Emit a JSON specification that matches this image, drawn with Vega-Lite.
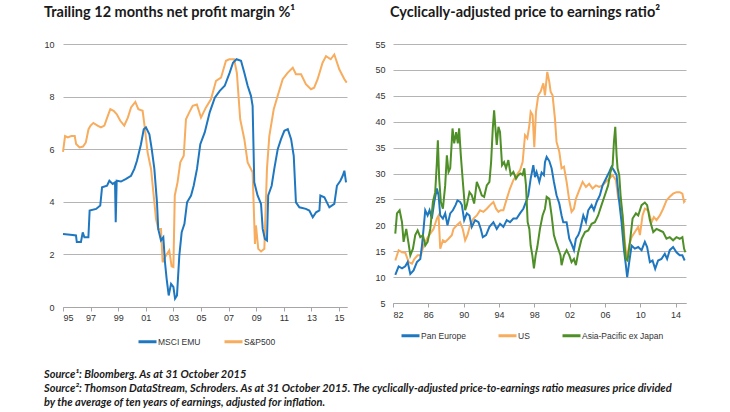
{
  "$schema": "https://vega.github.io/schema/vega-lite/v6.json",
  "background": "white",
  "padding": {"left": 43, "top": 4, "right": 5, "bottom": 0},
  "title": {
    "text": [
      "Source¹: Bloomberg. As at 31 October 2015",
      "Source²: Thomson DataStream, Schroders. As at 31 October 2015. The cyclically-adjusted price-to-earnings ratio measures price divided",
      "by the average of ten years of earnings, adjusted for inflation."
    ],
    "orient": "bottom",
    "anchor": "start",
    "frame": "bounds",
    "font": "Lato",
    "fontSize": 11,
    "fontStyle": "italic",
    "fontWeight": "bold",
    "lineHeight": 14,
    "offset": 21,
    "color": "#1a1a1a"
  },
  "datasets": {
    "margin": [
      {"series":"S&P500","year":1995.0,"value":5.9},{"series":"S&P500","year":1995.15,"value":6.5},{"series":"S&P500","year":1995.35,"value":6.45},{"series":"S&P500","year":1995.6,"value":6.5},{"series":"S&P500","year":1995.85,"value":6.5},{"series":"S&P500","year":1995.95,"value":6.2},{"series":"S&P500","year":1996.2,"value":6.07},{"series":"S&P500","year":1996.45,"value":6.1},{"series":"S&P500","year":1996.65,"value":6.25},{"series":"S&P500","year":1996.85,"value":6.76},{"series":"S&P500","year":1997.0,"value":6.9},{"series":"S&P500","year":1997.2,"value":7.0},{"series":"S&P500","year":1997.5,"value":6.9},{"series":"S&P500","year":1997.75,"value":6.83},{"series":"S&P500","year":1998.0,"value":6.9},{"series":"S&P500","year":1998.2,"value":7.2},{"series":"S&P500","year":1998.43,"value":7.52},{"series":"S&P500","year":1998.67,"value":7.46},{"series":"S&P500","year":1998.9,"value":7.33},{"series":"S&P500","year":1999.15,"value":7.08},{"series":"S&P500","year":1999.44,"value":6.9},{"series":"S&P500","year":1999.7,"value":7.2},{"series":"S&P500","year":1999.93,"value":7.59},{"series":"S&P500","year":2000.24,"value":7.8},{"series":"S&P500","year":2000.46,"value":7.52},{"series":"S&P500","year":2000.77,"value":7.46},{"series":"S&P500","year":2000.94,"value":6.76},{"series":"S&P500","year":2001.13,"value":5.88},{"series":"S&P500","year":2001.38,"value":5.25},{"series":"S&P500","year":2001.57,"value":4.24},{"series":"S&P500","year":2001.74,"value":3.35},{"series":"S&P500","year":2001.9,"value":2.97},{"series":"S&P500","year":2002.1,"value":2.97},{"series":"S&P500","year":2002.22,"value":1.7},{"series":"S&P500","year":2002.46,"value":1.96},{"series":"S&P500","year":2002.7,"value":2.15},{"series":"S&P500","year":2002.87,"value":1.55},{"series":"S&P500","year":2003.0,"value":1.52},{"series":"S&P500","year":2003.1,"value":4.24},{"series":"S&P500","year":2003.3,"value":4.74},{"series":"S&P500","year":2003.5,"value":5.5},{"series":"S&P500","year":2003.75,"value":5.75},{"series":"S&P500","year":2003.91,"value":7.14},{"series":"S&P500","year":2004.15,"value":7.4},{"series":"S&P500","year":2004.4,"value":7.65},{"series":"S&P500","year":2004.7,"value":7.7},{"series":"S&P500","year":2005.0,"value":7.2},{"series":"S&P500","year":2005.36,"value":7.59},{"series":"S&P500","year":2005.72,"value":7.9},{"series":"S&P500","year":2006.09,"value":8.6},{"series":"S&P500","year":2006.45,"value":8.72},{"series":"S&P500","year":2006.81,"value":9.36},{"series":"S&P500","year":2007.05,"value":9.42},{"series":"S&P500","year":2007.4,"value":9.42},{"series":"S&P500","year":2007.6,"value":8.9},{"series":"S&P500","year":2007.84,"value":7.14},{"series":"S&P500","year":2008.14,"value":6.38},{"series":"S&P500","year":2008.38,"value":5.5},{"series":"S&P500","year":2008.74,"value":5.12},{"series":"S&P500","year":2008.91,"value":2.4},{"series":"S&P500","year":2008.98,"value":3.1},{"series":"S&P500","year":2009.15,"value":2.21},{"series":"S&P500","year":2009.35,"value":2.11},{"series":"S&P500","year":2009.59,"value":2.21},{"series":"S&P500","year":2009.78,"value":5.25},{"series":"S&P500","year":2009.95,"value":6.5},{"series":"S&P500","year":2010.27,"value":7.52},{"series":"S&P500","year":2010.56,"value":8.03},{"series":"S&P500","year":2010.92,"value":8.66},{"series":"S&P500","year":2011.29,"value":8.91},{"series":"S&P500","year":2011.65,"value":9.1},{"series":"S&P500","year":2011.88,"value":8.85},{"series":"S&P500","year":2012.25,"value":8.85},{"series":"S&P500","year":2012.6,"value":8.47},{"series":"S&P500","year":2012.97,"value":8.28},{"series":"S&P500","year":2013.2,"value":8.34},{"series":"S&P500","year":2013.45,"value":8.66},{"series":"S&P500","year":2013.81,"value":9.29},{"series":"S&P500","year":2014.06,"value":9.54},{"series":"S&P500","year":2014.4,"value":9.42},{"series":"S&P500","year":2014.66,"value":9.6},{"series":"S&P500","year":2015.02,"value":9.04},{"series":"S&P500","year":2015.39,"value":8.66},{"series":"S&P500","year":2015.56,"value":8.53},
      {"series":"MSCI EMU","year":1995.0,"value":2.78},{"series":"MSCI EMU","year":1995.35,"value":2.76},{"series":"MSCI EMU","year":1995.7,"value":2.74},{"series":"MSCI EMU","year":1995.94,"value":2.72},{"series":"MSCI EMU","year":1996.0,"value":2.47},{"series":"MSCI EMU","year":1996.3,"value":2.47},{"series":"MSCI EMU","year":1996.43,"value":2.84},{"series":"MSCI EMU","year":1996.55,"value":2.65},{"series":"MSCI EMU","year":1996.84,"value":2.65},{"series":"MSCI EMU","year":1996.93,"value":3.67},{"series":"MSCI EMU","year":1997.4,"value":3.73},{"series":"MSCI EMU","year":1997.7,"value":3.86},{"series":"MSCI EMU","year":1997.83,"value":4.55},{"series":"MSCI EMU","year":1998.19,"value":4.61},{"series":"MSCI EMU","year":1998.36,"value":4.8},{"series":"MSCI EMU","year":1998.6,"value":4.68},{"series":"MSCI EMU","year":1998.77,"value":4.74},{"series":"MSCI EMU","year":1998.82,"value":3.22},{"series":"MSCI EMU","year":1998.89,"value":4.8},{"series":"MSCI EMU","year":1999.2,"value":4.77},{"series":"MSCI EMU","year":1999.57,"value":4.87},{"series":"MSCI EMU","year":1999.93,"value":4.99},{"series":"MSCI EMU","year":2000.17,"value":5.25},{"series":"MSCI EMU","year":2000.36,"value":5.56},{"series":"MSCI EMU","year":2000.65,"value":6.19},{"series":"MSCI EMU","year":2000.85,"value":6.76},{"series":"MSCI EMU","year":2001.01,"value":6.83},{"series":"MSCI EMU","year":2001.26,"value":6.57},{"series":"MSCI EMU","year":2001.43,"value":6.0},{"series":"MSCI EMU","year":2001.62,"value":5.25},{"series":"MSCI EMU","year":2001.81,"value":3.98},{"series":"MSCI EMU","year":2001.9,"value":2.97},{"series":"MSCI EMU","year":2002.1,"value":2.53},{"series":"MSCI EMU","year":2002.27,"value":2.65},{"series":"MSCI EMU","year":2002.39,"value":1.7},{"series":"MSCI EMU","year":2002.51,"value":1.07},{"series":"MSCI EMU","year":2002.66,"value":0.44},{"series":"MSCI EMU","year":2002.83,"value":0.88},{"series":"MSCI EMU","year":2003.0,"value":0.76},{"series":"MSCI EMU","year":2003.12,"value":0.32},{"series":"MSCI EMU","year":2003.26,"value":0.44},{"series":"MSCI EMU","year":2003.43,"value":1.96},{"series":"MSCI EMU","year":2003.6,"value":2.84},{"series":"MSCI EMU","year":2003.8,"value":3.16},{"series":"MSCI EMU","year":2003.99,"value":3.98},{"series":"MSCI EMU","year":2004.28,"value":4.24},{"series":"MSCI EMU","year":2004.47,"value":4.61},{"series":"MSCI EMU","year":2004.71,"value":5.25},{"series":"MSCI EMU","year":2004.95,"value":6.19},{"series":"MSCI EMU","year":2005.27,"value":6.64},{"series":"MSCI EMU","year":2005.63,"value":7.4},{"series":"MSCI EMU","year":2006.0,"value":7.96},{"series":"MSCI EMU","year":2006.36,"value":8.22},{"series":"MSCI EMU","year":2006.72,"value":8.41},{"series":"MSCI EMU","year":2007.08,"value":8.91},{"series":"MSCI EMU","year":2007.32,"value":9.29},{"series":"MSCI EMU","year":2007.57,"value":9.42},{"series":"MSCI EMU","year":2007.9,"value":9.36},{"series":"MSCI EMU","year":2008.14,"value":8.91},{"series":"MSCI EMU","year":2008.38,"value":8.41},{"series":"MSCI EMU","year":2008.62,"value":8.03},{"series":"MSCI EMU","year":2008.74,"value":7.65},{"series":"MSCI EMU","year":2008.86,"value":4.74},{"series":"MSCI EMU","year":2009.1,"value":4.24},{"series":"MSCI EMU","year":2009.35,"value":3.92},{"series":"MSCI EMU","year":2009.47,"value":2.97},{"series":"MSCI EMU","year":2009.63,"value":2.59},{"series":"MSCI EMU","year":2009.78,"value":2.53},{"series":"MSCI EMU","year":2009.87,"value":4.24},{"series":"MSCI EMU","year":2010.12,"value":4.61},{"series":"MSCI EMU","year":2010.31,"value":5.25},{"series":"MSCI EMU","year":2010.56,"value":6.0},{"series":"MSCI EMU","year":2010.8,"value":6.38},{"series":"MSCI EMU","year":2011.04,"value":6.7},{"series":"MSCI EMU","year":2011.29,"value":6.76},{"series":"MSCI EMU","year":2011.53,"value":6.38},{"series":"MSCI EMU","year":2011.72,"value":5.75},{"series":"MSCI EMU","year":2011.88,"value":3.98},{"series":"MSCI EMU","year":2012.13,"value":3.79},{"series":"MSCI EMU","year":2012.6,"value":3.73},{"series":"MSCI EMU","year":2012.85,"value":3.67},{"series":"MSCI EMU","year":2013.1,"value":3.41},{"series":"MSCI EMU","year":2013.34,"value":3.6},{"series":"MSCI EMU","year":2013.58,"value":3.67},{"series":"MSCI EMU","year":2013.65,"value":4.24},{"series":"MSCI EMU","year":2013.94,"value":4.17},{"series":"MSCI EMU","year":2014.3,"value":3.79},{"series":"MSCI EMU","year":2014.66,"value":3.92},{"series":"MSCI EMU","year":2014.85,"value":4.61},{"series":"MSCI EMU","year":2015.1,"value":4.8},{"series":"MSCI EMU","year":2015.27,"value":4.99},{"series":"MSCI EMU","year":2015.39,"value":5.18},{"series":"MSCI EMU","year":2015.51,"value":4.74}
    ],
    "cape": [
      {"series":"US","year":1982.26,"value":13.2},{"series":"US","year":1982.64,"value":15.2},{"series":"US","year":1983.02,"value":14.8},{"series":"US","year":1983.39,"value":14.7},{"series":"US","year":1983.77,"value":12.9},{"series":"US","year":1984.15,"value":12.6},{"series":"US","year":1984.41,"value":13.5},{"series":"US","year":1984.79,"value":14.2},{"series":"US","year":1985.16,"value":14.2},{"series":"US","year":1985.46,"value":16.1},{"series":"US","year":1985.84,"value":17.4},{"series":"US","year":1986.22,"value":18.4},{"series":"US","year":1986.59,"value":19.3},{"series":"US","year":1986.97,"value":21.3},{"series":"US","year":1987.16,"value":21.9},{"series":"US","year":1987.35,"value":15.5},{"series":"US","year":1987.65,"value":17.1},{"series":"US","year":1987.91,"value":16.8},{"series":"US","year":1988.29,"value":17.4},{"series":"US","year":1988.66,"value":18.1},{"series":"US","year":1988.85,"value":19.3},{"series":"US","year":1989.23,"value":20.0},{"series":"US","year":1989.6,"value":20.6},{"series":"US","year":1989.9,"value":19.3},{"series":"US","year":1990.17,"value":17.1},{"series":"US","year":1990.43,"value":18.1},{"series":"US","year":1990.73,"value":20.0},{"series":"US","year":1991.11,"value":21.3},{"series":"US","year":1991.49,"value":21.9},{"series":"US","year":1991.86,"value":22.9},{"series":"US","year":1992.24,"value":22.6},{"series":"US","year":1992.62,"value":23.2},{"series":"US","year":1992.99,"value":23.9},{"series":"US","year":1993.37,"value":24.5},{"series":"US","year":1993.67,"value":23.2},{"series":"US","year":1993.94,"value":22.6},{"series":"US","year":1994.2,"value":22.9},{"series":"US","year":1994.5,"value":22.9},{"series":"US","year":1994.88,"value":25.1},{"series":"US","year":1995.25,"value":27.1},{"series":"US","year":1995.63,"value":28.7},{"series":"US","year":1996.0,"value":29.7},{"series":"US","year":1996.38,"value":30.6},{"series":"US","year":1996.68,"value":32.2},{"series":"US","year":1996.95,"value":37.4},{"series":"US","year":1997.21,"value":36.8},{"series":"US","year":1997.44,"value":39.3},{"series":"US","year":1997.59,"value":41.9},{"series":"US","year":1997.81,"value":41.3},{"series":"US","year":1998.0,"value":35.1},{"series":"US","year":1998.19,"value":41.9},{"series":"US","year":1998.45,"value":45.1},{"series":"US","year":1998.72,"value":45.8},{"series":"US","year":1999.02,"value":47.4},{"series":"US","year":1999.21,"value":45.1},{"series":"US","year":1999.47,"value":49.6},{"series":"US","year":1999.7,"value":47.7},{"series":"US","year":1999.85,"value":45.8},{"series":"US","year":2000.07,"value":45.1},{"series":"US","year":2000.34,"value":40.6},{"series":"US","year":2000.52,"value":36.1},{"series":"US","year":2000.83,"value":34.2},{"series":"US","year":2001.09,"value":31.0},{"series":"US","year":2001.36,"value":31.3},{"series":"US","year":2001.66,"value":28.4},{"series":"US","year":2001.96,"value":24.8},{"series":"US","year":2002.22,"value":22.6},{"series":"US","year":2002.49,"value":23.2},{"series":"US","year":2002.71,"value":25.1},{"series":"US","year":2003.09,"value":26.8},{"series":"US","year":2003.47,"value":28.4},{"series":"US","year":2003.85,"value":27.4},{"series":"US","year":2004.22,"value":28.0},{"series":"US","year":2004.6,"value":27.1},{"series":"US","year":2004.98,"value":27.7},{"series":"US","year":2005.36,"value":27.4},{"series":"US","year":2005.73,"value":27.7},{"series":"US","year":2006.11,"value":28.4},{"series":"US","year":2006.49,"value":29.0},{"series":"US","year":2006.87,"value":29.7},{"series":"US","year":2007.24,"value":28.7},{"series":"US","year":2007.51,"value":25.1},{"series":"US","year":2007.77,"value":24.5},{"series":"US","year":2008.08,"value":20.6},{"series":"US","year":2008.26,"value":16.8},{"series":"US","year":2008.45,"value":13.5},{"series":"US","year":2008.75,"value":16.1},{"series":"US","year":2009.02,"value":17.7},{"series":"US","year":2009.39,"value":18.7},{"series":"US","year":2009.77,"value":19.7},{"series":"US","year":2009.96,"value":18.1},{"series":"US","year":2010.26,"value":21.9},{"series":"US","year":2010.52,"value":23.2},{"series":"US","year":2010.9,"value":22.9},{"series":"US","year":2011.28,"value":20.6},{"series":"US","year":2011.54,"value":21.6},{"series":"US","year":2011.84,"value":21.0},{"series":"US","year":2012.22,"value":21.9},{"series":"US","year":2012.59,"value":23.2},{"series":"US","year":2012.97,"value":24.8},{"series":"US","year":2013.34,"value":25.5},{"series":"US","year":2013.72,"value":26.1},{"series":"US","year":2014.1,"value":26.4},{"series":"US","year":2014.47,"value":26.4},{"series":"US","year":2014.77,"value":26.1},{"series":"US","year":2014.96,"value":24.5},{"series":"US","year":2015.1,"value":24.8},
      {"series":"Pan Europe","year":1982.26,"value":10.45},{"series":"Pan Europe","year":1982.64,"value":12.06},{"series":"Pan Europe","year":1983.02,"value":11.7},{"series":"Pan Europe","year":1983.39,"value":12.1},{"series":"Pan Europe","year":1983.66,"value":12.9},{"series":"Pan Europe","year":1983.96,"value":10.6},{"series":"Pan Europe","year":1984.33,"value":11.3},{"series":"Pan Europe","year":1984.71,"value":12.9},{"series":"Pan Europe","year":1985.09,"value":13.5},{"series":"Pan Europe","year":1985.28,"value":16.1},{"series":"Pan Europe","year":1985.46,"value":19.3},{"series":"Pan Europe","year":1985.65,"value":22.9},{"series":"Pan Europe","year":1985.92,"value":21.9},{"series":"Pan Europe","year":1986.14,"value":22.9},{"series":"Pan Europe","year":1986.4,"value":21.3},{"series":"Pan Europe","year":1986.67,"value":24.5},{"series":"Pan Europe","year":1986.97,"value":27.1},{"series":"Pan Europe","year":1987.16,"value":25.8},{"series":"Pan Europe","year":1987.35,"value":21.9},{"series":"Pan Europe","year":1987.65,"value":21.3},{"series":"Pan Europe","year":1987.91,"value":22.3},{"series":"Pan Europe","year":1988.17,"value":20.0},{"series":"Pan Europe","year":1988.48,"value":22.3},{"series":"Pan Europe","year":1988.78,"value":22.9},{"series":"Pan Europe","year":1989.08,"value":23.9},{"series":"Pan Europe","year":1989.3,"value":24.8},{"series":"Pan Europe","year":1989.6,"value":24.5},{"series":"Pan Europe","year":1989.8,"value":23.9},{"series":"Pan Europe","year":1990.06,"value":21.0},{"series":"Pan Europe","year":1990.36,"value":22.3},{"series":"Pan Europe","year":1990.66,"value":21.9},{"series":"Pan Europe","year":1990.92,"value":19.7},{"series":"Pan Europe","year":1991.3,"value":21.0},{"series":"Pan Europe","year":1991.68,"value":20.6},{"series":"Pan Europe","year":1991.94,"value":19.3},{"series":"Pan Europe","year":1992.17,"value":17.7},{"series":"Pan Europe","year":1992.54,"value":18.1},{"series":"Pan Europe","year":1992.92,"value":19.7},{"series":"Pan Europe","year":1993.37,"value":20.6},{"series":"Pan Europe","year":1993.75,"value":19.3},{"series":"Pan Europe","year":1994.12,"value":20.3},{"series":"Pan Europe","year":1994.5,"value":19.7},{"series":"Pan Europe","year":1994.88,"value":21.0},{"series":"Pan Europe","year":1995.25,"value":20.6},{"series":"Pan Europe","year":1995.63,"value":21.3},{"series":"Pan Europe","year":1996.0,"value":21.3},{"series":"Pan Europe","year":1996.38,"value":22.3},{"series":"Pan Europe","year":1996.76,"value":23.2},{"series":"Pan Europe","year":1997.06,"value":24.5},{"series":"Pan Europe","year":1997.32,"value":25.8},{"series":"Pan Europe","year":1997.59,"value":29.0},{"series":"Pan Europe","year":1997.89,"value":31.6},{"series":"Pan Europe","year":1998.08,"value":29.3},{"series":"Pan Europe","year":1998.26,"value":30.3},{"series":"Pan Europe","year":1998.57,"value":28.4},{"series":"Pan Europe","year":1998.83,"value":30.2},{"series":"Pan Europe","year":1999.09,"value":29.7},{"series":"Pan Europe","year":1999.21,"value":32.2},{"series":"Pan Europe","year":1999.4,"value":33.2},{"series":"Pan Europe","year":1999.7,"value":32.4},{"series":"Pan Europe","year":1999.96,"value":31.0},{"series":"Pan Europe","year":2000.22,"value":28.4},{"series":"Pan Europe","year":2000.52,"value":25.8},{"series":"Pan Europe","year":2000.83,"value":24.2},{"series":"Pan Europe","year":2001.09,"value":21.9},{"series":"Pan Europe","year":2001.28,"value":20.6},{"series":"Pan Europe","year":2001.66,"value":20.6},{"series":"Pan Europe","year":2001.96,"value":17.4},{"series":"Pan Europe","year":2002.22,"value":16.4},{"series":"Pan Europe","year":2002.49,"value":15.2},{"series":"Pan Europe","year":2002.71,"value":17.4},{"series":"Pan Europe","year":2002.98,"value":18.1},{"series":"Pan Europe","year":2003.17,"value":19.0},{"series":"Pan Europe","year":2003.55,"value":21.9},{"series":"Pan Europe","year":2003.85,"value":20.6},{"series":"Pan Europe","year":2004.11,"value":22.9},{"series":"Pan Europe","year":2004.49,"value":23.9},{"series":"Pan Europe","year":2004.75,"value":22.9},{"series":"Pan Europe","year":2005.06,"value":24.5},{"series":"Pan Europe","year":2005.43,"value":25.8},{"series":"Pan Europe","year":2005.73,"value":27.7},{"series":"Pan Europe","year":2006.11,"value":29.0},{"series":"Pan Europe","year":2006.49,"value":30.3},{"series":"Pan Europe","year":2006.75,"value":31.3},{"series":"Pan Europe","year":2007.02,"value":30.6},{"series":"Pan Europe","year":2007.32,"value":29.7},{"series":"Pan Europe","year":2007.62,"value":24.5},{"series":"Pan Europe","year":2007.88,"value":20.6},{"series":"Pan Europe","year":2008.14,"value":15.5},{"series":"Pan Europe","year":2008.37,"value":12.3},{"series":"Pan Europe","year":2008.52,"value":10.0},{"series":"Pan Europe","year":2008.75,"value":12.9},{"series":"Pan Europe","year":2009.02,"value":16.1},{"series":"Pan Europe","year":2009.39,"value":15.5},{"series":"Pan Europe","year":2009.77,"value":15.8},{"series":"Pan Europe","year":2010.15,"value":15.2},{"series":"Pan Europe","year":2010.52,"value":16.8},{"series":"Pan Europe","year":2010.78,"value":15.8},{"series":"Pan Europe","year":2011.09,"value":12.9},{"series":"Pan Europe","year":2011.39,"value":13.2},{"series":"Pan Europe","year":2011.69,"value":11.6},{"series":"Pan Europe","year":2012.02,"value":13.2},{"series":"Pan Europe","year":2012.4,"value":13.5},{"series":"Pan Europe","year":2012.78,"value":14.5},{"series":"Pan Europe","year":2013.04,"value":13.5},{"series":"Pan Europe","year":2013.34,"value":15.2},{"series":"Pan Europe","year":2013.72,"value":15.8},{"series":"Pan Europe","year":2014.1,"value":14.8},{"series":"Pan Europe","year":2014.47,"value":14.2},{"series":"Pan Europe","year":2014.77,"value":14.2},{"series":"Pan Europe","year":2015.03,"value":13.2},
      {"series":"Asia-Pacific ex Japan","year":1982.26,"value":18.4},{"series":"Asia-Pacific ex Japan","year":1982.45,"value":22.3},{"series":"Asia-Pacific ex Japan","year":1982.75,"value":22.9},{"series":"Asia-Pacific ex Japan","year":1983.02,"value":20.6},{"series":"Asia-Pacific ex Japan","year":1983.2,"value":16.8},{"series":"Asia-Pacific ex Japan","year":1983.5,"value":19.3},{"series":"Asia-Pacific ex Japan","year":1983.77,"value":16.4},{"series":"Asia-Pacific ex Japan","year":1983.96,"value":14.2},{"series":"Asia-Pacific ex Japan","year":1984.26,"value":15.5},{"series":"Asia-Pacific ex Japan","year":1984.52,"value":18.1},{"series":"Asia-Pacific ex Japan","year":1984.79,"value":19.0},{"series":"Asia-Pacific ex Japan","year":1985.09,"value":17.7},{"series":"Asia-Pacific ex Japan","year":1985.39,"value":18.1},{"series":"Asia-Pacific ex Japan","year":1985.65,"value":16.1},{"series":"Asia-Pacific ex Japan","year":1985.92,"value":16.8},{"series":"Asia-Pacific ex Japan","year":1986.22,"value":19.3},{"series":"Asia-Pacific ex Japan","year":1986.52,"value":24.5},{"series":"Asia-Pacific ex Japan","year":1986.78,"value":26.4},{"series":"Asia-Pacific ex Japan","year":1986.97,"value":32.2},{"series":"Asia-Pacific ex Japan","year":1987.08,"value":36.4},{"series":"Asia-Pacific ex Japan","year":1987.23,"value":29.0},{"series":"Asia-Pacific ex Japan","year":1987.42,"value":24.5},{"series":"Asia-Pacific ex Japan","year":1987.65,"value":23.2},{"series":"Asia-Pacific ex Japan","year":1987.91,"value":27.7},{"series":"Asia-Pacific ex Japan","year":1988.1,"value":33.5},{"series":"Asia-Pacific ex Japan","year":1988.29,"value":30.3},{"series":"Asia-Pacific ex Japan","year":1988.48,"value":31.0},{"series":"Asia-Pacific ex Japan","year":1988.74,"value":38.7},{"series":"Asia-Pacific ex Japan","year":1988.93,"value":35.8},{"series":"Asia-Pacific ex Japan","year":1989.15,"value":38.0},{"series":"Asia-Pacific ex Japan","year":1989.34,"value":35.8},{"series":"Asia-Pacific ex Japan","year":1989.49,"value":38.7},{"series":"Asia-Pacific ex Japan","year":1989.68,"value":33.5},{"series":"Asia-Pacific ex Japan","year":1989.91,"value":28.4},{"series":"Asia-Pacific ex Japan","year":1990.17,"value":22.9},{"series":"Asia-Pacific ex Japan","year":1990.36,"value":23.9},{"series":"Asia-Pacific ex Japan","year":1990.66,"value":26.4},{"series":"Asia-Pacific ex Japan","year":1990.92,"value":25.8},{"series":"Asia-Pacific ex Japan","year":1991.19,"value":24.2},{"series":"Asia-Pacific ex Japan","year":1991.49,"value":28.4},{"series":"Asia-Pacific ex Japan","year":1991.79,"value":27.1},{"series":"Asia-Pacific ex Japan","year":1992.05,"value":25.8},{"series":"Asia-Pacific ex Japan","year":1992.32,"value":25.5},{"series":"Asia-Pacific ex Japan","year":1992.62,"value":27.7},{"series":"Asia-Pacific ex Japan","year":1992.92,"value":28.4},{"series":"Asia-Pacific ex Japan","year":1993.11,"value":32.2},{"series":"Asia-Pacific ex Japan","year":1993.3,"value":38.7},{"series":"Asia-Pacific ex Japan","year":1993.45,"value":42.2},{"series":"Asia-Pacific ex Japan","year":1993.6,"value":38.7},{"series":"Asia-Pacific ex Japan","year":1993.75,"value":35.5},{"series":"Asia-Pacific ex Japan","year":1993.94,"value":39.0},{"series":"Asia-Pacific ex Japan","year":1994.12,"value":38.0},{"series":"Asia-Pacific ex Japan","year":1994.35,"value":31.6},{"series":"Asia-Pacific ex Japan","year":1994.58,"value":32.2},{"series":"Asia-Pacific ex Japan","year":1994.8,"value":31.0},{"series":"Asia-Pacific ex Japan","year":1995.06,"value":32.6},{"series":"Asia-Pacific ex Japan","year":1995.33,"value":29.7},{"series":"Asia-Pacific ex Japan","year":1995.63,"value":30.3},{"series":"Asia-Pacific ex Japan","year":1995.93,"value":29.0},{"series":"Asia-Pacific ex Japan","year":1996.19,"value":29.7},{"series":"Asia-Pacific ex Japan","year":1996.46,"value":30.0},{"series":"Asia-Pacific ex Japan","year":1996.68,"value":29.7},{"series":"Asia-Pacific ex Japan","year":1996.87,"value":31.0},{"series":"Asia-Pacific ex Japan","year":1997.06,"value":27.7},{"series":"Asia-Pacific ex Japan","year":1997.25,"value":20.6},{"series":"Asia-Pacific ex Japan","year":1997.44,"value":19.3},{"series":"Asia-Pacific ex Japan","year":1997.59,"value":16.1},{"series":"Asia-Pacific ex Japan","year":1997.78,"value":14.2},{"series":"Asia-Pacific ex Japan","year":1997.96,"value":11.7},{"series":"Asia-Pacific ex Japan","year":1998.15,"value":14.2},{"series":"Asia-Pacific ex Japan","year":1998.34,"value":15.8},{"series":"Asia-Pacific ex Japan","year":1998.64,"value":19.3},{"series":"Asia-Pacific ex Japan","year":1998.94,"value":21.9},{"series":"Asia-Pacific ex Japan","year":1999.21,"value":23.2},{"series":"Asia-Pacific ex Japan","year":1999.4,"value":25.5},{"series":"Asia-Pacific ex Japan","year":1999.7,"value":25.1},{"series":"Asia-Pacific ex Japan","year":1999.96,"value":21.9},{"series":"Asia-Pacific ex Japan","year":2000.22,"value":18.1},{"series":"Asia-Pacific ex Japan","year":2000.45,"value":16.8},{"series":"Asia-Pacific ex Japan","year":2000.71,"value":15.5},{"series":"Asia-Pacific ex Japan","year":2000.97,"value":14.2},{"series":"Asia-Pacific ex Japan","year":2001.09,"value":12.3},{"series":"Asia-Pacific ex Japan","year":2001.36,"value":14.2},{"series":"Asia-Pacific ex Japan","year":2001.66,"value":15.2},{"series":"Asia-Pacific ex Japan","year":2001.96,"value":14.2},{"series":"Asia-Pacific ex Japan","year":2002.22,"value":12.9},{"series":"Asia-Pacific ex Japan","year":2002.49,"value":13.5},{"series":"Asia-Pacific ex Japan","year":2002.71,"value":12.3},{"series":"Asia-Pacific ex Japan","year":2002.98,"value":14.8},{"series":"Asia-Pacific ex Japan","year":2003.36,"value":17.4},{"series":"Asia-Pacific ex Japan","year":2003.74,"value":18.7},{"series":"Asia-Pacific ex Japan","year":2004.11,"value":19.0},{"series":"Asia-Pacific ex Japan","year":2004.49,"value":20.3},{"series":"Asia-Pacific ex Japan","year":2004.86,"value":20.6},{"series":"Asia-Pacific ex Japan","year":2005.23,"value":21.9},{"series":"Asia-Pacific ex Japan","year":2005.61,"value":23.9},{"series":"Asia-Pacific ex Japan","year":2005.99,"value":25.8},{"series":"Asia-Pacific ex Japan","year":2006.36,"value":27.7},{"series":"Asia-Pacific ex Japan","year":2006.63,"value":30.3},{"series":"Asia-Pacific ex Japan","year":2006.87,"value":31.6},{"series":"Asia-Pacific ex Japan","year":2007.02,"value":36.1},{"series":"Asia-Pacific ex Japan","year":2007.17,"value":39.0},{"series":"Asia-Pacific ex Japan","year":2007.32,"value":33.5},{"series":"Asia-Pacific ex Japan","year":2007.43,"value":31.0},{"series":"Asia-Pacific ex Japan","year":2007.62,"value":29.7},{"series":"Asia-Pacific ex Japan","year":2007.77,"value":25.8},{"series":"Asia-Pacific ex Japan","year":2008.0,"value":21.9},{"series":"Asia-Pacific ex Japan","year":2008.19,"value":16.8},{"series":"Asia-Pacific ex Japan","year":2008.37,"value":13.5},{"series":"Asia-Pacific ex Japan","year":2008.56,"value":13.2},{"series":"Asia-Pacific ex Japan","year":2008.83,"value":16.8},{"series":"Asia-Pacific ex Japan","year":2009.13,"value":21.3},{"series":"Asia-Pacific ex Japan","year":2009.51,"value":22.3},{"series":"Asia-Pacific ex Japan","year":2009.77,"value":21.9},{"series":"Asia-Pacific ex Japan","year":2010.15,"value":23.9},{"series":"Asia-Pacific ex Japan","year":2010.52,"value":24.4},{"series":"Asia-Pacific ex Japan","year":2010.78,"value":23.9},{"series":"Asia-Pacific ex Japan","year":2011.09,"value":21.0},{"series":"Asia-Pacific ex Japan","year":2011.47,"value":18.7},{"series":"Asia-Pacific ex Japan","year":2011.84,"value":19.3},{"series":"Asia-Pacific ex Japan","year":2012.22,"value":19.0},{"series":"Asia-Pacific ex Japan","year":2012.59,"value":18.7},{"series":"Asia-Pacific ex Japan","year":2012.97,"value":17.4},{"series":"Asia-Pacific ex Japan","year":2013.34,"value":17.7},{"series":"Asia-Pacific ex Japan","year":2013.72,"value":17.1},{"series":"Asia-Pacific ex Japan","year":2014.1,"value":17.7},{"series":"Asia-Pacific ex Japan","year":2014.47,"value":17.4},{"series":"Asia-Pacific ex Japan","year":2014.77,"value":17.7},{"series":"Asia-Pacific ex Japan","year":2014.96,"value":15.5},{"series":"Asia-Pacific ex Japan","year":2015.1,"value":14.8}
    ]
  },
  "spacing": 23,
  "resolve": {"scale": {"color": "independent"}, "legend": {"color": "independent"}},
  "hconcat": [
    {
      "width": 284,
      "height": 263,
      "title": {"text": "Trailing 12 months net profit margin %¹", "anchor": "start", "frame": "bounds", "offset": 20},
      "data": {"name": "margin"},
      "mark": {"type": "line", "strokeWidth": 2},
      "encoding": {
        "x": {"field": "year", "type": "quantitative",
              "scale": {"domain": [1995, 2015.58], "nice": false, "zero": false},
              "axis": {"values": [1995,1997,1999,2001,2003,2005,2007,2009,2011,2013,2015], "labelExpr": "format(datum.value % 100, '02d')", "grid": false, "tickSize": 4, "labelPadding": 2, "title": null}},
        "y": {"field": "value", "type": "quantitative",
              "scale": {"domain": [0, 10], "nice": false},
              "axis": {"values": [0,2,4,6,8,10], "domain": false, "ticks": false, "labelPadding": 9, "title": null}},
        "color": {"field": "series", "type": "nominal",
                  "scale": {"domain": ["MSCI EMU", "S&P500"], "range": ["#1f77c0", "#f7ac5e"]},
                  "legend": {"title": null, "orient": "none", "legendX": 74, "legendY": 287, "direction": "horizontal", "columnPadding": 17}}
      }
    },
    {
      "width": 293,
      "height": 259,
      "title": {"text": "Cyclically-adjusted price to earnings ratio²", "anchor": "start", "frame": "bounds", "offset": 20, "dx": 15},
      "data": {"name": "cape"},
      "mark": {"type": "line", "strokeWidth": 2},
      "encoding": {
        "x": {"field": "year", "type": "quantitative",
              "scale": {"domain": [1982, 2015.18], "nice": false, "zero": false},
              "axis": {"values": [1982,1986,1990,1994,1998,2002,2006,2010,2014], "labelExpr": "format(datum.value % 100, '02d')", "grid": false, "tickSize": 4, "labelPadding": 3, "title": null}},
        "y": {"field": "value", "type": "quantitative",
              "scale": {"domain": [5, 55], "nice": false, "zero": false},
              "axis": {"values": [5,10,15,20,25,30,35,40,45,50,55], "domain": false, "ticks": false, "labelPadding": 8, "title": null}},
        "color": {"field": "series", "type": "nominal",
                  "scale": {"domain": ["Pan Europe", "US", "Asia-Pacific ex Japan"], "range": ["#1f77c0", "#f7ac5e", "#4e8f28"]},
                  "legend": {"title": null, "orient": "none", "legendX": 7, "legendY": 281, "direction": "horizontal", "columnPadding": 26}}
      }
    }
  ],
  "config": {
    "view": {"stroke": null},
    "axis": {"labelFont": "Liberation Sans", "labelFontSize": 9, "labelColor": "#333333", "gridColor": "#b4b4b4", "gridWidth": 1, "domainColor": "#a6a6a6", "tickColor": "#a6a6a6"},
    "legend": {"symbolType": "stroke", "symbolSize": 324, "symbolStrokeWidth": 3, "labelFont": "Liberation Sans", "labelFontSize": 8.5, "labelColor": "#333333", "labelOffset": 0, "padding": 0},
    "title": {"font": "Lato", "fontSize": 14.5, "fontWeight": "bold", "color": "#1a1a1a"}
  }
}
